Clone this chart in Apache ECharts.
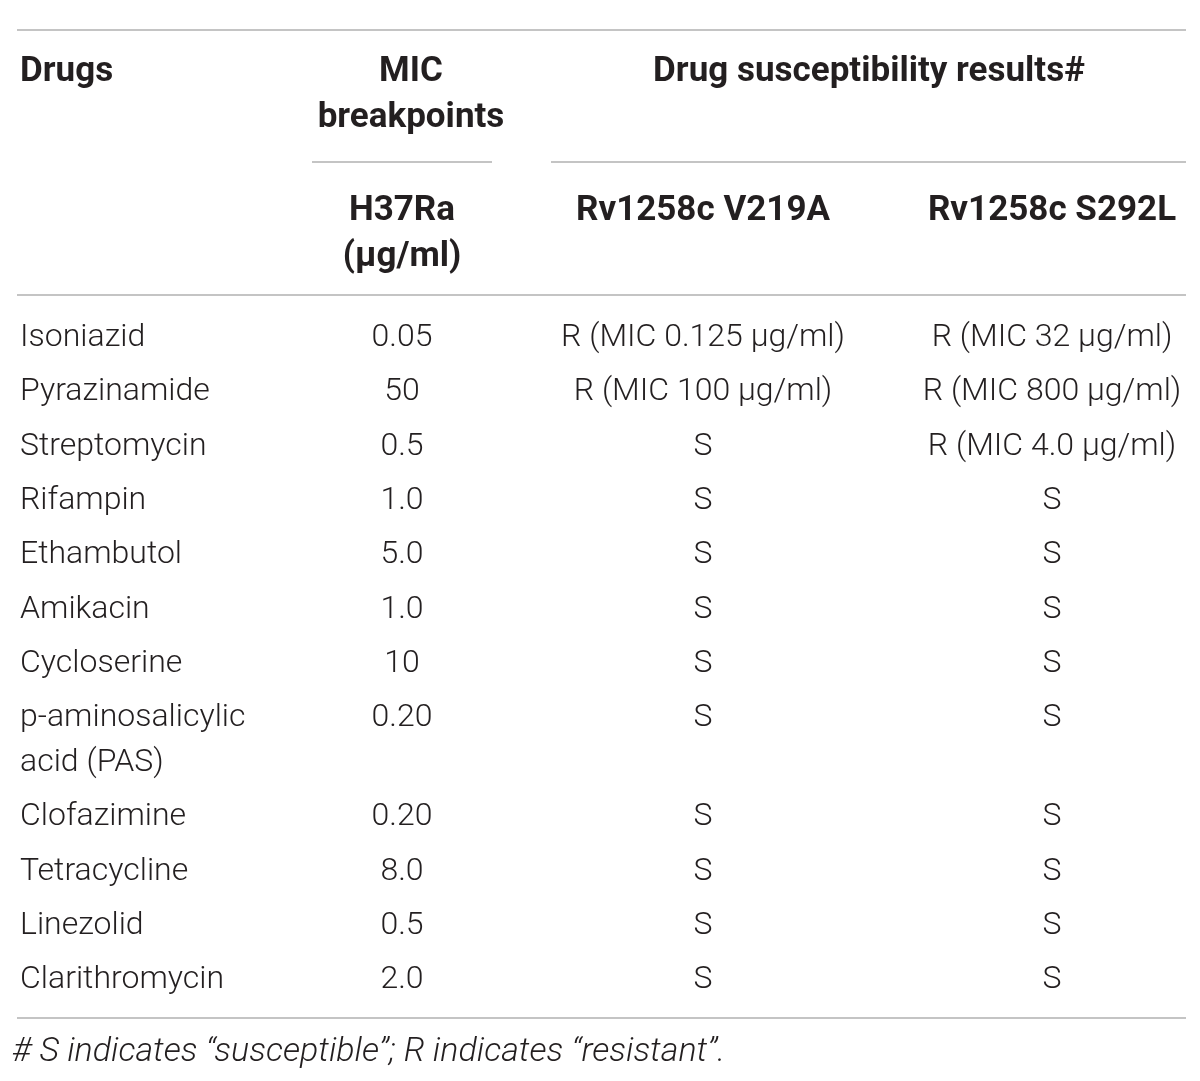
<!DOCTYPE html>
<html>
<head>
<meta charset="utf-8">
<style>
  html, body { margin: 0; padding: 0; background: #fff; }
  #main { width: 1200px; height: 1081px; }
</style>
<script src="https://cdn.jsdelivr.net/npm/echarts@6/dist/echarts.min.js"></script>
</head>
<body>
<div id="main"></div>
<script>
// table content
var drugs = ['Isoniazid', 'Pyrazinamide', 'Streptomycin', 'Rifampin', 'Ethambutol', 'Amikacin',
  'Cycloserine', 'p-aminosalicylic\nacid (PAS)', 'Clofazimine', 'Tetracycline', 'Linezolid', 'Clarithromycin'];
var breakpoints = ['0.05', '50', '0.5', '1.0', '5.0', '1.0', '10', '0.20', '0.20', '8.0', '0.5', '2.0'];
var resultV219A = ['R (MIC 0.125 \u03bcg/ml)', 'R (MIC 100 \u03bcg/ml)', 'S', 'S', 'S', 'S', 'S', 'S', 'S', 'S', 'S', 'S'];
var resultS292L = ['R (MIC 32 \u03bcg/ml)', 'R (MIC 800 \u03bcg/ml)', 'R (MIC 4.0 \u03bcg/ml)', 'S', 'S', 'S', 'S', 'S', 'S', 'S', 'S', 'S'];
var footnote = '# S indicates \u201csusceptible\u201d; R indicates \u201cresistant\u201d.';

var TXT = '#231f20';
var RULE = '#c4c4c4';
var FONT = '"Roboto", "Liberation Sans", sans-serif';
var bodyFont = '300 32px ' + FONT;
var headFont = 'bold 35px ' + FONT;

var colX = [20, 402, 703, 1052];
var firstRow = 338, rowStep = 54.3, lineStep = 45;

// cells: [x, y, text, align, font]
var cells = [];
cells.push([20, 72, 'Drugs', 'left', headFont]);
cells.push([411, 72, 'MIC', 'center', headFont]);
cells.push([411, 118, 'breakpoints', 'center', headFont]);
cells.push([869, 72, 'Drug susceptibility results#', 'center', headFont]);
cells.push([402, 211, 'H37Ra', 'center', headFont]);
cells.push([402, 257, '(\u03bcg/ml)', 'center', headFont]);
cells.push([703, 211, 'Rv1258c V219A', 'center', headFont]);
cells.push([1052, 211, 'Rv1258c S292L', 'center', headFont]);

var y = firstRow;
for (var i = 0; i < drugs.length; i++) {
  var lines = drugs[i].split('\n');
  for (var k = 0; k < lines.length; k++) {
    cells.push([colX[0], y + k * lineStep, lines[k], 'left', bodyFont]);
  }
  cells.push([colX[1], y, breakpoints[i], 'center', bodyFont]);
  cells.push([colX[2], y, resultV219A[i], 'center', bodyFont]);
  cells.push([colX[3], y, resultS292L[i], 'center', bodyFont]);
  y += rowStep + (lines.length - 1) * lineStep;
}
cells.push([12, 1052, footnote, 'left', 'italic 300 34px ' + FONT]);

// rules: [x1, x2, y]
var rules = [[17, 1186, 30], [312, 492, 162], [551, 1186, 162], [17, 1186, 295], [17, 1186, 1018]];

var chart = echarts.init(document.getElementById('main'));
chart.setOption({
  animation: false,
  grid: { left: 0, right: 0, top: 0, bottom: 0 },
  xAxis: { type: 'value', min: 0, max: 1200, show: false },
  yAxis: { type: 'value', min: 0, max: 1081, inverse: true, show: false },
  series: [
    {
      type: 'custom',
      data: rules,
      renderItem: function (params, api) {
        var p1 = api.coord([api.value(0), api.value(2)]);
        var p2 = api.coord([api.value(1), api.value(2)]);
        return {
          type: 'line',
          shape: { x1: p1[0], y1: p1[1], x2: p2[0], y2: p2[1] },
          style: { stroke: RULE, lineWidth: 2 }
        };
      }
    },
    {
      type: 'custom',
      data: cells.map(function (c) { return { value: [c[0], c[1]], text: c[2], align: c[3], font: c[4] }; }),
      renderItem: function (params, api) {
        var d = cells[params.dataIndex];
        var p = api.coord([d[0], d[1]]);
        return {
          type: 'text',
          x: p[0], y: p[1],
          style: { text: d[2], textAlign: d[3], textVerticalAlign: 'middle', font: d[4], fill: TXT }
        };
      }
    }
  ]
});
</script>
</body>
</html>
